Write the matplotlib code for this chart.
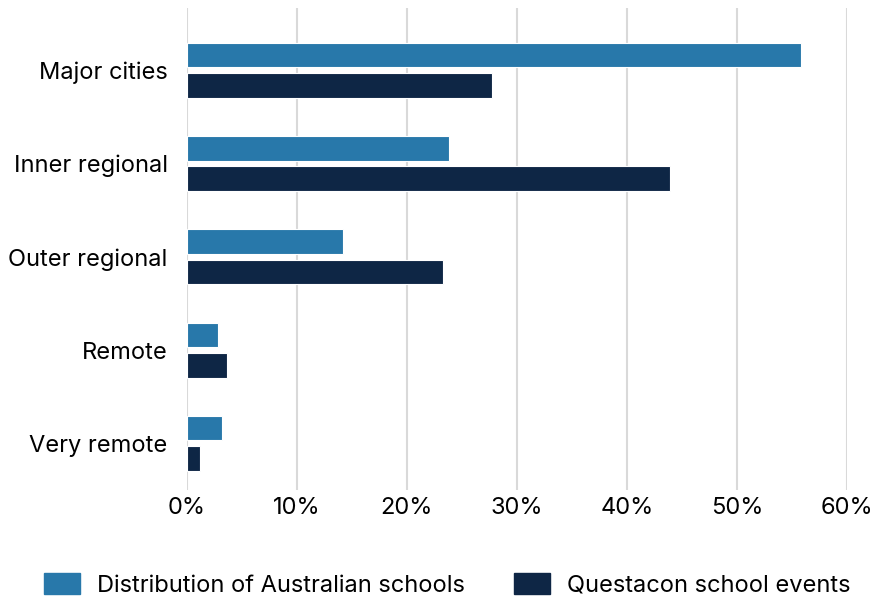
import numpy as np
import matplotlib
matplotlib.use("Agg")
import matplotlib.pyplot as plt
from matplotlib.patches import Patch
from matplotlib.ticker import PercentFormatter

# Share of schools / events by remoteness area (%)
categories = ["Major cities", "Inner regional", "Outer regional", "Remote", "Very remote"]
schools = [55.8, 23.8, 14.2, 2.8, 3.2]
events = [27.7, 43.9, 23.3, 3.6, 1.2]
series_names = ["Distribution of Australian schools", "Questacon school events"]

LIGHT = "#2878aa"
DARK = "#0e2645"

plt.rcParams["font.family"] = ["Inter", "DejaVu Sans"]

fig = plt.figure(figsize=(8.82, 5.96), dpi=100)
ax = fig.add_axes([0.212, 0.178, 0.748, 0.809])

y = np.arange(len(categories))
h = 0.265
ax.barh(y - h / 2 - 0.03, schools, height=h, color=LIGHT, edgecolor="white", linewidth=0.8)
ax.barh(y + h / 2 + 0.03, events, height=h, color=DARK, edgecolor="white", linewidth=0.8)

ax.set_xlim(0, 60)
ax.set_ylim(4.5, -0.67)
ax.set_xticks(np.arange(0, 61, 10))
ax.xaxis.set_major_formatter(PercentFormatter(decimals=0))
ax.set_yticks(y)
ax.set_yticklabels(categories)

ax.grid(axis="x", color="#d9d9d9", linewidth=1.5)
ax.set_axisbelow(True)
for s in ax.spines.values():
    s.set_visible(False)
ax.tick_params(axis="y", length=0, pad=14, labelsize=17)
ax.tick_params(axis="x", length=0, pad=5, labelsize=17)

handles = [Patch(color=LIGHT), Patch(color=DARK)]
fig.legend(handles, series_names, loc="lower center", ncol=2, frameon=False,
           fontsize=17, bbox_to_anchor=(0.507, -0.037), handlelength=1.5,
           handleheight=1.0, columnspacing=2.1, handletextpad=0.72)

fig.savefig("out.png", dpi=100)
